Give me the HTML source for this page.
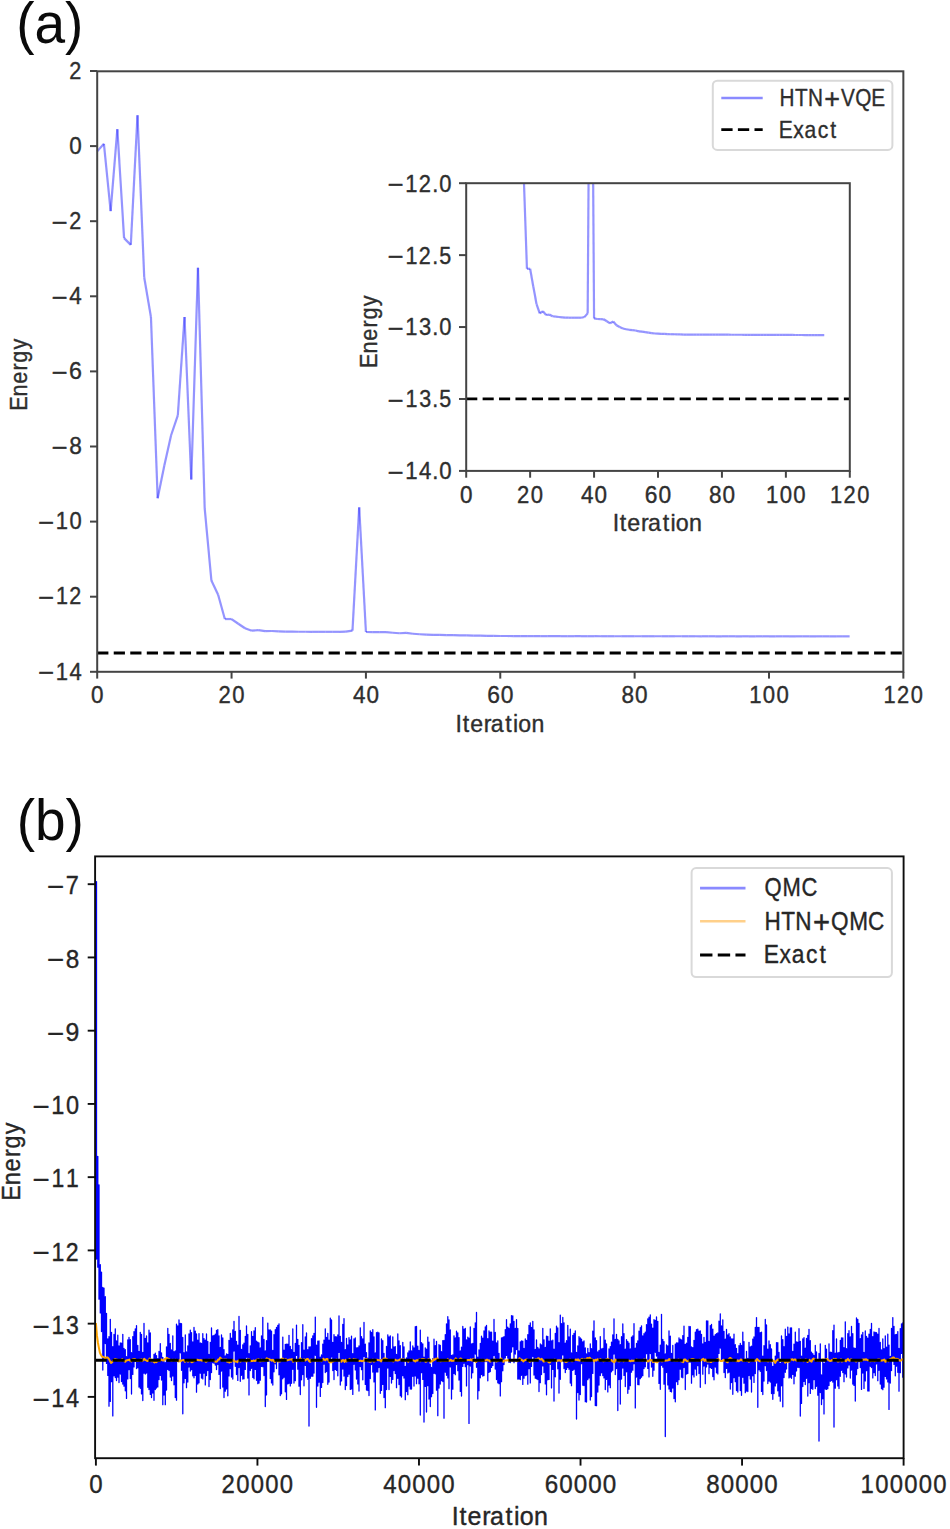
<!DOCTYPE html>
<html><head><meta charset="utf-8"><title>Energy convergence</title>
<style>
html,body{margin:0;padding:0;background:#fff;}
body{width:950px;height:1529px;overflow:hidden;}
text{stroke-width:0.35px;stroke-linejoin:round;}
svg{display:block;font-family:"Liberation Sans",sans-serif;}
</style></head>
<body>
<svg width="950" height="1529" viewBox="0 0 950 1529">
<rect width="950" height="1529" fill="#fff"/>
<text transform="translate(16.2,43.2) scale(0.965,1)" font-size="57" fill="#0a0a0a">(a)</text>
<g stroke="#2a2aff" stroke-opacity="0.5" stroke-width="2.2" stroke-linecap="butt" fill="none"><line x1="97.20" y1="151.36" x2="103.92" y2="143.85"/><line x1="103.92" y1="143.85" x2="110.64" y2="211.06"/><line x1="110.64" y1="211.06" x2="117.35" y2="129.20"/><line x1="117.35" y1="129.20" x2="124.07" y2="238.10"/><line x1="124.07" y1="238.10" x2="130.79" y2="244.86"/><line x1="130.79" y1="244.86" x2="137.51" y2="115.31"/><line x1="137.51" y1="115.31" x2="144.23" y2="277.52"/><line x1="144.23" y1="277.52" x2="150.94" y2="316.95"/><line x1="150.94" y1="316.95" x2="157.66" y2="498.32"/><line x1="157.66" y1="498.32" x2="164.38" y2="465.27"/><line x1="164.38" y1="465.27" x2="171.10" y2="435.24"/><line x1="171.10" y1="435.24" x2="177.81" y2="415.33"/><line x1="177.81" y1="415.33" x2="184.53" y2="316.95"/><line x1="184.53" y1="316.95" x2="191.25" y2="479.54"/><line x1="191.25" y1="479.54" x2="197.97" y2="267.76"/><line x1="197.97" y1="267.76" x2="204.69" y2="508.46"/><line x1="204.69" y1="508.46" x2="211.40" y2="580.55"/><line x1="211.40" y1="580.55" x2="218.12" y2="594.82"/><line x1="218.12" y1="594.82" x2="224.84" y2="619.04"/><line x1="224.84" y1="619.04" x2="231.56" y2="619.04"/><line x1="231.56" y1="619.04" x2="238.28" y2="623.74"/><line x1="238.28" y1="623.74" x2="244.99" y2="628.24"/><line x1="244.99" y1="628.24" x2="251.71" y2="630.68"/><line x1="251.71" y1="630.68" x2="258.43" y2="630.12"/><line x1="258.43" y1="630.12" x2="265.15" y2="631.10"/><line x1="265.15" y1="631.10" x2="271.87" y2="630.98"/><line x1="271.87" y1="630.98" x2="278.58" y2="631.43"/><line x1="278.58" y1="631.43" x2="285.30" y2="631.55"/><line x1="285.30" y1="631.55" x2="292.02" y2="631.62"/><line x1="292.02" y1="631.62" x2="298.74" y2="631.73"/><line x1="298.74" y1="631.73" x2="305.46" y2="631.77"/><line x1="305.46" y1="631.77" x2="312.17" y2="631.81"/><line x1="312.17" y1="631.81" x2="318.89" y2="631.81"/><line x1="318.89" y1="631.81" x2="325.61" y2="631.81"/><line x1="325.61" y1="631.81" x2="332.33" y2="631.81"/><line x1="332.33" y1="631.81" x2="339.04" y2="631.81"/><line x1="339.04" y1="631.81" x2="345.76" y2="631.62"/><line x1="345.76" y1="631.62" x2="352.48" y2="630.68"/><line x1="352.48" y1="630.68" x2="359.20" y2="507.33"/><line x1="359.20" y1="507.33" x2="365.92" y2="632.00"/><line x1="365.92" y1="632.00" x2="372.63" y2="632.15"/><line x1="372.63" y1="632.15" x2="379.35" y2="632.18"/><line x1="379.35" y1="632.18" x2="386.07" y2="632.22"/><line x1="386.07" y1="632.22" x2="392.79" y2="632.75"/><line x1="392.79" y1="632.75" x2="399.51" y2="633.27"/><line x1="399.51" y1="633.27" x2="406.22" y2="632.82"/><line x1="406.22" y1="632.82" x2="412.94" y2="633.76"/><line x1="412.94" y1="633.76" x2="419.66" y2="634.25"/><line x1="419.66" y1="634.25" x2="426.38" y2="634.63"/><line x1="426.38" y1="634.63" x2="433.10" y2="634.81"/><line x1="433.10" y1="634.81" x2="439.81" y2="634.96"/><line x1="439.81" y1="634.96" x2="446.53" y2="635.04"/><line x1="446.53" y1="635.04" x2="453.25" y2="635.15"/><line x1="453.25" y1="635.15" x2="459.97" y2="635.38"/><line x1="459.97" y1="635.38" x2="466.69" y2="635.45"/><line x1="466.69" y1="635.45" x2="473.40" y2="635.56"/><line x1="473.40" y1="635.56" x2="480.12" y2="635.71"/><line x1="480.12" y1="635.71" x2="486.84" y2="635.83"/><line x1="486.84" y1="635.83" x2="493.56" y2="635.94"/><line x1="493.56" y1="635.94" x2="500.27" y2="635.98"/><line x1="500.27" y1="635.98" x2="506.99" y2="636.01"/><line x1="506.99" y1="636.01" x2="513.71" y2="636.05"/><line x1="513.71" y1="636.05" x2="520.43" y2="636.09"/><line x1="520.43" y1="636.09" x2="527.15" y2="636.13"/><line x1="527.15" y1="636.13" x2="533.86" y2="636.13"/><line x1="533.86" y1="636.13" x2="540.58" y2="636.17"/><line x1="540.58" y1="636.17" x2="547.30" y2="636.17"/><line x1="547.30" y1="636.17" x2="554.02" y2="636.20"/><line x1="554.02" y1="636.20" x2="560.74" y2="636.21"/><line x1="560.74" y1="636.21" x2="567.45" y2="636.21"/><line x1="567.45" y1="636.21" x2="574.17" y2="636.21"/><line x1="574.17" y1="636.21" x2="580.89" y2="636.22"/><line x1="580.89" y1="636.22" x2="587.61" y2="636.22"/><line x1="587.61" y1="636.22" x2="594.33" y2="636.22"/><line x1="594.33" y1="636.22" x2="601.04" y2="636.23"/><line x1="601.04" y1="636.23" x2="607.76" y2="636.23"/><line x1="607.76" y1="636.23" x2="614.48" y2="636.23"/><line x1="614.48" y1="636.23" x2="621.20" y2="636.24"/><line x1="621.20" y1="636.24" x2="627.92" y2="636.24"/><line x1="627.92" y1="636.24" x2="634.63" y2="636.24"/><line x1="634.63" y1="636.24" x2="641.35" y2="636.25"/><line x1="641.35" y1="636.25" x2="648.07" y2="636.25"/><line x1="648.07" y1="636.25" x2="654.79" y2="636.25"/><line x1="654.79" y1="636.25" x2="661.50" y2="636.26"/><line x1="661.50" y1="636.26" x2="668.22" y2="636.26"/><line x1="668.22" y1="636.26" x2="674.94" y2="636.26"/><line x1="674.94" y1="636.26" x2="681.66" y2="636.27"/><line x1="681.66" y1="636.27" x2="688.38" y2="636.27"/><line x1="688.38" y1="636.27" x2="695.09" y2="636.27"/><line x1="695.09" y1="636.27" x2="701.81" y2="636.28"/><line x1="701.81" y1="636.28" x2="708.53" y2="636.28"/><line x1="708.53" y1="636.28" x2="715.25" y2="636.28"/><line x1="715.25" y1="636.28" x2="721.97" y2="636.29"/><line x1="721.97" y1="636.29" x2="728.68" y2="636.29"/><line x1="728.68" y1="636.29" x2="735.40" y2="636.29"/><line x1="735.40" y1="636.29" x2="742.12" y2="636.30"/><line x1="742.12" y1="636.30" x2="748.84" y2="636.30"/><line x1="748.84" y1="636.30" x2="755.56" y2="636.31"/><line x1="755.56" y1="636.31" x2="762.27" y2="636.31"/><line x1="762.27" y1="636.31" x2="768.99" y2="636.31"/><line x1="768.99" y1="636.31" x2="775.71" y2="636.32"/><line x1="775.71" y1="636.32" x2="782.43" y2="636.32"/><line x1="782.43" y1="636.32" x2="789.15" y2="636.32"/><line x1="789.15" y1="636.32" x2="795.86" y2="636.33"/><line x1="795.86" y1="636.33" x2="802.58" y2="636.33"/><line x1="802.58" y1="636.33" x2="809.30" y2="636.33"/><line x1="809.30" y1="636.33" x2="816.02" y2="636.34"/><line x1="816.02" y1="636.34" x2="822.74" y2="636.34"/><line x1="822.74" y1="636.34" x2="829.45" y2="636.34"/><line x1="829.45" y1="636.34" x2="836.17" y2="636.35"/><line x1="836.17" y1="636.35" x2="842.89" y2="636.35"/><line x1="842.89" y1="636.35" x2="849.61" y2="636.35"/></g>
<line x1="97.2" y1="653.02" x2="903.35" y2="653.02" stroke="#000" stroke-width="2.8" stroke-dasharray="11.2 5.33"/>
<rect x="97.2" y="71.3" width="806.15" height="600.50" fill="none" stroke="#444" stroke-width="2.0"/>
<line x1="90.00" y1="71.00" x2="97.2" y2="71.00" stroke="#444" stroke-width="2.0"/>
<text transform="translate(82.35,78.70) scale(0.9973,1.0600)" x="-13.11" font-size="21.7" fill="#2e2e2e" stroke="#2e2e2e">2</text>
<line x1="90.00" y1="146.10" x2="97.2" y2="146.10" stroke="#444" stroke-width="2.0"/>
<text transform="translate(82.35,153.80) scale(1.0347,1.0600)" x="-12.59" font-size="21.7" fill="#2e2e2e" stroke="#2e2e2e">0</text>
<line x1="90.00" y1="221.20" x2="97.2" y2="221.20" stroke="#444" stroke-width="2.0"/>
<text transform="translate(82.35,230.50) scale(1.2647,1.1644)" x="-24.11" font-size="21.7" fill="#2e2e2e" stroke="#2e2e2e">−</text><text transform="translate(82.35,228.90) scale(0.9973,1.0600)" x="-13.11" font-size="21.7" fill="#2e2e2e" stroke="#2e2e2e">2</text>
<line x1="90.00" y1="296.30" x2="97.2" y2="296.30" stroke="#444" stroke-width="2.0"/>
<text transform="translate(82.35,305.60) scale(1.2647,1.1644)" x="-24.11" font-size="21.7" fill="#2e2e2e" stroke="#2e2e2e">−</text><text transform="translate(82.35,304.00) scale(1.0348,1.0600)" x="-12.59" font-size="21.7" fill="#2e2e2e" stroke="#2e2e2e">4</text>
<line x1="90.00" y1="371.40" x2="97.2" y2="371.40" stroke="#444" stroke-width="2.0"/>
<text transform="translate(82.35,380.70) scale(1.2647,1.1644)" x="-24.11" font-size="21.7" fill="#2e2e2e" stroke="#2e2e2e">−</text><text transform="translate(82.35,379.10) scale(1.0709,1.0600)" x="-12.37" font-size="21.7" fill="#2e2e2e" stroke="#2e2e2e">6</text>
<line x1="90.00" y1="446.50" x2="97.2" y2="446.50" stroke="#444" stroke-width="2.0"/>
<text transform="translate(82.35,455.80) scale(1.2647,1.1644)" x="-24.11" font-size="21.7" fill="#2e2e2e" stroke="#2e2e2e">−</text><text transform="translate(82.35,454.20) scale(1.0459,1.0600)" x="-12.52" font-size="21.7" fill="#2e2e2e" stroke="#2e2e2e">8</text>
<line x1="90.00" y1="521.60" x2="97.2" y2="521.60" stroke="#444" stroke-width="2.0"/>
<text transform="translate(82.35,530.90) scale(1.2647,1.1644)" x="-34.83" font-size="21.7" fill="#2e2e2e" stroke="#2e2e2e">−</text><text transform="translate(82.35,529.30) scale(1.0127,1.0600)" x="-26.22 -12.73" font-size="21.7" fill="#2e2e2e" stroke="#2e2e2e">10</text>
<line x1="90.00" y1="596.70" x2="97.2" y2="596.70" stroke="#444" stroke-width="2.0"/>
<text transform="translate(82.35,606.00) scale(1.2647,1.1644)" x="-34.83" font-size="21.7" fill="#2e2e2e" stroke="#2e2e2e">−</text><text transform="translate(82.35,604.40) scale(0.9929,1.0600)" x="-26.61 -13.15" font-size="21.7" fill="#2e2e2e" stroke="#2e2e2e">12</text>
<line x1="90.00" y1="671.80" x2="97.2" y2="671.80" stroke="#444" stroke-width="2.0"/>
<text transform="translate(82.35,681.10) scale(1.2647,1.1644)" x="-34.83" font-size="21.7" fill="#2e2e2e" stroke="#2e2e2e">−</text><text transform="translate(82.35,679.50) scale(1.0133,1.0600)" x="-26.21 -12.73" font-size="21.7" fill="#2e2e2e" stroke="#2e2e2e">14</text>
<line x1="97.20" y1="671.8" x2="97.20" y2="678.60" stroke="#444" stroke-width="2.0"/>
<text transform="translate(97.20,702.70) scale(1.0347,1.0600)" x="-6.04" font-size="21.7" fill="#2e2e2e" stroke="#2e2e2e">0</text>
<line x1="231.56" y1="671.8" x2="231.56" y2="678.60" stroke="#444" stroke-width="2.0"/>
<text transform="translate(231.56,702.70) scale(1.0165,1.0600)" x="-12.98 0.63" font-size="21.7" fill="#2e2e2e" stroke="#2e2e2e">20</text>
<line x1="365.92" y1="671.8" x2="365.92" y2="678.60" stroke="#444" stroke-width="2.0"/>
<text transform="translate(365.92,702.70) scale(1.0348,1.0600)" x="-12.59 0.51" font-size="21.7" fill="#2e2e2e" stroke="#2e2e2e">40</text>
<line x1="500.27" y1="671.8" x2="500.27" y2="678.60" stroke="#444" stroke-width="2.0"/>
<text transform="translate(500.27,702.70) scale(1.0525,1.0600)" x="-12.48 0.40" font-size="21.7" fill="#2e2e2e" stroke="#2e2e2e">60</text>
<line x1="634.63" y1="671.8" x2="634.63" y2="678.60" stroke="#444" stroke-width="2.0"/>
<text transform="translate(634.63,702.70) scale(1.0403,1.0600)" x="-12.55 0.47" font-size="21.7" fill="#2e2e2e" stroke="#2e2e2e">80</text>
<line x1="768.99" y1="671.8" x2="768.99" y2="678.60" stroke="#444" stroke-width="2.0"/>
<text transform="translate(768.99,702.70) scale(1.0203,1.0600)" x="-19.43 -6.04 7.24" font-size="21.7" fill="#2e2e2e" stroke="#2e2e2e">100</text>
<line x1="903.35" y1="671.8" x2="903.35" y2="678.60" stroke="#444" stroke-width="2.0"/>
<text transform="translate(903.35,702.70) scale(1.0076,1.0600)" x="-19.60 -6.32 7.41" font-size="21.7" fill="#2e2e2e" stroke="#2e2e2e">120</text>
<text transform="translate(455.75,732.10) scale(1.0650,1.0600)" x="-0.12 6.56 13.53 26.33 32.84 46.43 53.67 58.77 71.03" font-size="21.7" fill="#2e2e2e" stroke="#2e2e2e">Iteration</text>
<text transform="translate(26.90,410.00) rotate(-90) scale(0.9942,1.0600)" x="-0.81 13.53 26.37 39.70 47.52 60.86" font-size="21.7" fill="#2e2e2e" stroke="#2e2e2e">Energy</text>
<rect x="712.8" y="80.7" width="179.6" height="69.2" rx="4.5" fill="#fff" fill-opacity="0.8" stroke="#d9d9d9" stroke-width="2.0"/>
<line x1="721.3" y1="98" x2="762.7" y2="98" stroke="#8a8aff" stroke-width="2.6"/>
<line x1="721.3" y1="129.7" x2="762.7" y2="129.7" stroke="#000" stroke-width="2.8" stroke-dasharray="11.3 5.3"/>
<text transform="translate(779.15,108.24) scale(1.2409,1.2814)" x="36.28" font-size="21.7" fill="#2e2e2e" stroke="#2e2e2e">+</text><text transform="translate(779.15,105.80) scale(0.9554,1.0600)" x="0.38 16.51 30.16 64.75 79.65 96.32" font-size="21.7" fill="#2e2e2e" stroke="#2e2e2e">HTNVQE</text>
<text transform="translate(779.15,137.80) scale(0.9699,1.0600)" x="-0.48 14.52 26.14 39.82 52.58" font-size="21.7" fill="#2e2e2e" stroke="#2e2e2e">Exact</text>
<rect x="466.2" y="183.2" width="383.60" height="287.70" fill="#fff"/>
<clipPath id="ci"><rect x="466.20" y="183.20" width="383.60" height="287.70"/></clipPath>
<g clip-path="url(#ci)" stroke="#2a2aff" stroke-opacity="0.5" stroke-width="2.2" stroke-linecap="butt" fill="none"><line x1="466.20" y1="-1522.86" x2="469.40" y2="-1551.63"/><line x1="469.40" y1="-1551.63" x2="472.59" y2="-1294.14"/><line x1="472.59" y1="-1294.14" x2="475.79" y2="-1607.73"/><line x1="475.79" y1="-1607.73" x2="478.99" y2="-1190.57"/><line x1="478.99" y1="-1190.57" x2="482.18" y2="-1164.67"/><line x1="482.18" y1="-1164.67" x2="485.38" y2="-1660.96"/><line x1="485.38" y1="-1660.96" x2="488.58" y2="-1039.52"/><line x1="488.58" y1="-1039.52" x2="491.77" y2="-888.48"/><line x1="491.77" y1="-888.48" x2="494.97" y2="-193.69"/><line x1="494.97" y1="-193.69" x2="498.17" y2="-320.27"/><line x1="498.17" y1="-320.27" x2="501.36" y2="-435.35"/><line x1="501.36" y1="-435.35" x2="504.56" y2="-511.60"/><line x1="504.56" y1="-511.60" x2="507.76" y2="-888.48"/><line x1="507.76" y1="-888.48" x2="510.95" y2="-265.61"/><line x1="510.95" y1="-265.61" x2="514.15" y2="-1076.93"/><line x1="514.15" y1="-1076.93" x2="517.35" y2="-154.85"/><line x1="517.35" y1="-154.85" x2="520.54" y2="121.34"/><line x1="520.54" y1="121.34" x2="523.74" y2="176.01"/><line x1="523.74" y1="176.01" x2="526.94" y2="268.79"/><line x1="526.94" y1="268.79" x2="530.13" y2="268.79"/><line x1="530.13" y1="268.79" x2="533.33" y2="286.77"/><line x1="533.33" y1="286.77" x2="536.53" y2="304.03"/><line x1="536.53" y1="304.03" x2="539.72" y2="313.38"/><line x1="539.72" y1="313.38" x2="542.92" y2="311.23"/><line x1="542.92" y1="311.23" x2="546.12" y2="314.97"/><line x1="546.12" y1="314.97" x2="549.31" y2="314.54"/><line x1="549.31" y1="314.54" x2="552.51" y2="316.26"/><line x1="552.51" y1="316.26" x2="555.71" y2="316.69"/><line x1="555.71" y1="316.69" x2="558.90" y2="316.98"/><line x1="558.90" y1="316.98" x2="562.10" y2="317.41"/><line x1="562.10" y1="317.41" x2="565.30" y2="317.56"/><line x1="565.30" y1="317.56" x2="568.49" y2="317.70"/><line x1="568.49" y1="317.70" x2="571.69" y2="317.70"/><line x1="571.69" y1="317.70" x2="574.89" y2="317.70"/><line x1="574.89" y1="317.70" x2="578.08" y2="317.70"/><line x1="578.08" y1="317.70" x2="581.28" y2="317.70"/><line x1="581.28" y1="317.70" x2="584.48" y2="316.98"/><line x1="584.48" y1="316.98" x2="587.67" y2="313.38"/><line x1="587.67" y1="313.38" x2="590.87" y2="-159.16"/><line x1="590.87" y1="-159.16" x2="594.07" y2="318.42"/><line x1="594.07" y1="318.42" x2="597.26" y2="318.99"/><line x1="597.26" y1="318.99" x2="600.46" y2="319.14"/><line x1="600.46" y1="319.14" x2="603.66" y2="319.28"/><line x1="603.66" y1="319.28" x2="606.85" y2="321.30"/><line x1="606.85" y1="321.30" x2="610.05" y2="323.31"/><line x1="610.05" y1="323.31" x2="613.25" y2="321.58"/><line x1="613.25" y1="321.58" x2="616.44" y2="325.18"/><line x1="616.44" y1="325.18" x2="619.64" y2="327.05"/><line x1="619.64" y1="327.05" x2="622.84" y2="328.49"/><line x1="622.84" y1="328.49" x2="626.03" y2="329.21"/><line x1="626.03" y1="329.21" x2="629.23" y2="329.78"/><line x1="629.23" y1="329.78" x2="632.43" y2="330.07"/><line x1="632.43" y1="330.07" x2="635.62" y2="330.50"/><line x1="635.62" y1="330.50" x2="638.82" y2="331.37"/><line x1="638.82" y1="331.37" x2="642.02" y2="331.65"/><line x1="642.02" y1="331.65" x2="645.21" y2="332.08"/><line x1="645.21" y1="332.08" x2="648.41" y2="332.66"/><line x1="648.41" y1="332.66" x2="651.61" y2="333.09"/><line x1="651.61" y1="333.09" x2="654.80" y2="333.52"/><line x1="654.80" y1="333.52" x2="658.00" y2="333.67"/><line x1="658.00" y1="333.67" x2="661.20" y2="333.81"/><line x1="661.20" y1="333.81" x2="664.39" y2="333.95"/><line x1="664.39" y1="333.95" x2="667.59" y2="334.10"/><line x1="667.59" y1="334.10" x2="670.79" y2="334.24"/><line x1="670.79" y1="334.24" x2="673.98" y2="334.24"/><line x1="673.98" y1="334.24" x2="677.18" y2="334.39"/><line x1="677.18" y1="334.39" x2="680.38" y2="334.39"/><line x1="680.38" y1="334.39" x2="683.57" y2="334.53"/><line x1="683.57" y1="334.53" x2="686.77" y2="334.54"/><line x1="686.77" y1="334.54" x2="689.97" y2="334.56"/><line x1="689.97" y1="334.56" x2="693.16" y2="334.57"/><line x1="693.16" y1="334.57" x2="696.36" y2="334.58"/><line x1="696.36" y1="334.58" x2="699.56" y2="334.60"/><line x1="699.56" y1="334.60" x2="702.75" y2="334.61"/><line x1="702.75" y1="334.61" x2="705.95" y2="334.62"/><line x1="705.95" y1="334.62" x2="709.15" y2="334.63"/><line x1="709.15" y1="334.63" x2="712.34" y2="334.65"/><line x1="712.34" y1="334.65" x2="715.54" y2="334.66"/><line x1="715.54" y1="334.66" x2="718.74" y2="334.67"/><line x1="718.74" y1="334.67" x2="721.93" y2="334.69"/><line x1="721.93" y1="334.69" x2="725.13" y2="334.70"/><line x1="725.13" y1="334.70" x2="728.33" y2="334.71"/><line x1="728.33" y1="334.71" x2="731.52" y2="334.73"/><line x1="731.52" y1="334.73" x2="734.72" y2="334.74"/><line x1="734.72" y1="334.74" x2="737.92" y2="334.75"/><line x1="737.92" y1="334.75" x2="741.11" y2="334.77"/><line x1="741.11" y1="334.77" x2="744.31" y2="334.78"/><line x1="744.31" y1="334.78" x2="747.51" y2="334.79"/><line x1="747.51" y1="334.79" x2="750.70" y2="334.80"/><line x1="750.70" y1="334.80" x2="753.90" y2="334.82"/><line x1="753.90" y1="334.82" x2="757.10" y2="334.83"/><line x1="757.10" y1="334.83" x2="760.29" y2="334.84"/><line x1="760.29" y1="334.84" x2="763.49" y2="334.86"/><line x1="763.49" y1="334.86" x2="766.69" y2="334.87"/><line x1="766.69" y1="334.87" x2="769.88" y2="334.88"/><line x1="769.88" y1="334.88" x2="773.08" y2="334.90"/><line x1="773.08" y1="334.90" x2="776.28" y2="334.91"/><line x1="776.28" y1="334.91" x2="779.47" y2="334.92"/><line x1="779.47" y1="334.92" x2="782.67" y2="334.94"/><line x1="782.67" y1="334.94" x2="785.87" y2="334.95"/><line x1="785.87" y1="334.95" x2="789.06" y2="334.96"/><line x1="789.06" y1="334.96" x2="792.26" y2="334.97"/><line x1="792.26" y1="334.97" x2="795.46" y2="334.99"/><line x1="795.46" y1="334.99" x2="798.65" y2="335.00"/><line x1="798.65" y1="335.00" x2="801.85" y2="335.01"/><line x1="801.85" y1="335.01" x2="805.05" y2="335.03"/><line x1="805.05" y1="335.03" x2="808.24" y2="335.04"/><line x1="808.24" y1="335.04" x2="811.44" y2="335.05"/><line x1="811.44" y1="335.05" x2="814.64" y2="335.07"/><line x1="814.64" y1="335.07" x2="817.83" y2="335.08"/><line x1="817.83" y1="335.08" x2="821.03" y2="335.09"/><line x1="821.03" y1="335.09" x2="824.23" y2="335.11"/></g>
<line x1="466.2" y1="398.97" x2="849.8" y2="398.97" stroke="#000" stroke-width="2.8" stroke-dasharray="11.1 5.32"/>
<rect x="466.2" y="183.2" width="383.60" height="287.70" fill="none" stroke="#444" stroke-width="2.0"/>
<line x1="459.00" y1="183.20" x2="466.2" y2="183.20" stroke="#444" stroke-width="2.0"/>
<text transform="translate(452.20,193.20) scale(1.2647,1.1644)" x="-50.90" font-size="21.7" fill="#2e2e2e" stroke="#2e2e2e">−</text><text transform="translate(452.20,191.60) scale(1.0111,1.0600)" x="-46.35 -33.12 -19.78 -12.74" font-size="21.7" fill="#2e2e2e" stroke="#2e2e2e">12.0</text>
<line x1="459.00" y1="255.12" x2="466.2" y2="255.12" stroke="#444" stroke-width="2.0"/>
<text transform="translate(452.20,265.12) scale(1.2647,1.1644)" x="-50.90" font-size="21.7" fill="#2e2e2e" stroke="#2e2e2e">−</text><text transform="translate(452.20,263.52) scale(0.9921,1.0600)" x="-47.12 -33.64 -20.10 -12.95" font-size="21.7" fill="#2e2e2e" stroke="#2e2e2e">12.5</text>
<line x1="459.00" y1="327.05" x2="466.2" y2="327.05" stroke="#444" stroke-width="2.0"/>
<text transform="translate(452.20,337.05) scale(1.2647,1.1644)" x="-50.90" font-size="21.7" fill="#2e2e2e" stroke="#2e2e2e">−</text><text transform="translate(452.20,335.45) scale(1.0098,1.0600)" x="-46.40 -32.85 -19.80 -12.75" font-size="21.7" fill="#2e2e2e" stroke="#2e2e2e">13.0</text>
<line x1="459.00" y1="398.97" x2="466.2" y2="398.97" stroke="#444" stroke-width="2.0"/>
<text transform="translate(452.20,408.97) scale(1.2647,1.1644)" x="-50.90" font-size="21.7" fill="#2e2e2e" stroke="#2e2e2e">−</text><text transform="translate(452.20,407.37) scale(0.9910,1.0600)" x="-47.16 -33.36 -20.12 -12.96" font-size="21.7" fill="#2e2e2e" stroke="#2e2e2e">13.5</text>
<line x1="459.00" y1="470.90" x2="466.2" y2="470.90" stroke="#444" stroke-width="2.0"/>
<text transform="translate(452.20,480.90) scale(1.2647,1.1644)" x="-50.90" font-size="21.7" fill="#2e2e2e" stroke="#2e2e2e">−</text><text transform="translate(452.20,479.30) scale(1.0232,1.0600)" x="-45.88 -32.53 -19.58 -12.66" font-size="21.7" fill="#2e2e2e" stroke="#2e2e2e">14.0</text>
<line x1="466.20" y1="470.9" x2="466.20" y2="477.70" stroke="#444" stroke-width="2.0"/>
<text transform="translate(466.20,502.60) scale(1.0347,1.0600)" x="-6.04" font-size="21.7" fill="#2e2e2e" stroke="#2e2e2e">0</text>
<line x1="530.13" y1="470.9" x2="530.13" y2="477.70" stroke="#444" stroke-width="2.0"/>
<text transform="translate(530.13,502.60) scale(1.0165,1.0600)" x="-12.98 0.63" font-size="21.7" fill="#2e2e2e" stroke="#2e2e2e">20</text>
<line x1="594.07" y1="470.9" x2="594.07" y2="477.70" stroke="#444" stroke-width="2.0"/>
<text transform="translate(594.07,502.60) scale(1.0348,1.0600)" x="-12.59 0.51" font-size="21.7" fill="#2e2e2e" stroke="#2e2e2e">40</text>
<line x1="658.00" y1="470.9" x2="658.00" y2="477.70" stroke="#444" stroke-width="2.0"/>
<text transform="translate(658.00,502.60) scale(1.0525,1.0600)" x="-12.48 0.40" font-size="21.7" fill="#2e2e2e" stroke="#2e2e2e">60</text>
<line x1="721.93" y1="470.9" x2="721.93" y2="477.70" stroke="#444" stroke-width="2.0"/>
<text transform="translate(721.93,502.60) scale(1.0403,1.0600)" x="-12.55 0.47" font-size="21.7" fill="#2e2e2e" stroke="#2e2e2e">80</text>
<line x1="785.87" y1="470.9" x2="785.87" y2="477.70" stroke="#444" stroke-width="2.0"/>
<text transform="translate(785.87,502.60) scale(1.0203,1.0600)" x="-19.43 -6.04 7.24" font-size="21.7" fill="#2e2e2e" stroke="#2e2e2e">100</text>
<line x1="849.80" y1="470.9" x2="849.80" y2="477.70" stroke="#444" stroke-width="2.0"/>
<text transform="translate(849.80,502.60) scale(1.0076,1.0600)" x="-19.60 -6.32 7.41" font-size="21.7" fill="#2e2e2e" stroke="#2e2e2e">120</text>
<text transform="translate(612.84,531.30) scale(1.0726,1.0600)" x="-0.12 6.56 13.53 26.33 32.84 46.43 53.67 58.77 71.03" font-size="21.7" fill="#2e2e2e" stroke="#2e2e2e">Iteration</text>
<text transform="translate(376.80,367.11) rotate(-90) scale(0.9995,1.0600)" x="-0.81 13.53 26.37 39.70 47.52 60.86" font-size="21.7" fill="#2e2e2e" stroke="#2e2e2e">Energy</text>
<text transform="translate(16.7,839.7) scale(0.965,1)" font-size="57" fill="#0a0a0a">(b)</text>
<clipPath id="cb"><rect x="95.10" y="856.40" width="808.50" height="601.80"/></clipPath>
<path clip-path="url(#cb)" d="M96.5 881.6V1259.1M97.8 1156.3V1267.2M99.0 1185.0V1299.2M100.3 1264.7V1312.9M101.5 1272.1V1331.5M102.8 1287.5V1370.1M104.0 1288.1V1360.1M105.3 1296.7V1343.6M106.5 1313.3V1363.4M107.8 1338.9V1375.4M109.0 1336.6V1406.2M110.3 1319.3V1401.4M111.5 1332.3V1381.7M112.8 1346.6V1415.9M114.0 1334.5V1375.8M115.3 1328.8V1377.5M116.5 1340.8V1380.6M117.8 1335.2V1377.2M119.0 1345.9V1382.6M120.3 1343.0V1374.0M121.5 1343.2V1381.5M122.8 1334.3V1384.1M124.0 1348.4V1386.2M125.3 1349.6V1390.8M126.5 1356.7V1398.4M127.8 1339.8V1378.9M129.0 1337.5V1369.7M130.3 1339.7V1378.5M131.5 1352.7V1394.0M132.8 1336.6V1374.4M134.0 1331.6V1366.9M135.3 1328.8V1361.4M136.5 1325.7V1368.6M137.8 1345.5V1367.8M139.0 1351.3V1387.1M140.3 1332.3V1388.3M141.5 1334.4V1393.9M142.8 1352.4V1400.5M144.0 1323.4V1373.2M145.3 1338.3V1374.0M146.5 1335.9V1373.1M147.8 1342.8V1387.3M149.0 1330.2V1389.5M150.3 1333.0V1394.4M151.5 1359.7V1397.6M152.8 1361.0V1393.0M154.0 1354.5V1400.3M155.3 1353.2V1389.6M156.5 1355.6V1388.1M157.8 1358.6V1386.9M159.0 1351.4V1379.6M160.3 1343.7V1375.4M161.5 1352.8V1380.0M162.8 1357.3V1404.7M164.0 1361.6V1395.0M165.3 1362.6V1404.7M166.5 1346.8V1390.0M167.8 1328.3V1369.4M169.0 1334.3V1370.5M170.3 1343.5V1377.1M171.5 1350.0V1380.6M172.8 1335.8V1376.1M174.0 1351.7V1384.8M175.3 1351.0V1397.6M176.5 1324.2V1400.2M177.8 1326.0V1358.4M179.0 1319.9V1361.7M180.3 1323.3V1352.8M181.5 1323.7V1370.3M182.8 1337.5V1413.8M184.0 1352.7V1382.8M185.3 1334.9V1378.4M186.5 1351.9V1387.7M187.8 1346.0V1382.0M189.0 1334.0V1367.0M190.3 1330.1V1371.1M191.5 1332.6V1369.7M192.8 1341.9V1375.8M194.0 1327.4V1377.8M195.3 1331.1V1375.4M196.5 1334.0V1392.2M197.8 1340.2V1384.1M199.0 1333.6V1382.8M200.3 1342.9V1373.2M201.5 1343.5V1378.1M202.8 1333.7V1378.9M204.0 1338.6V1373.2M205.3 1340.2V1384.9M206.5 1334.0V1375.5M207.8 1341.4V1370.5M209.0 1354.5V1386.5M210.3 1342.5V1379.6M211.5 1328.0V1372.6M212.8 1335.8V1362.7M214.0 1335.3V1363.2M215.3 1334.2V1365.0M216.5 1330.3V1369.6M217.8 1329.6V1364.5M219.0 1336.0V1374.4M220.3 1347.5V1388.5M221.5 1334.9V1371.0M222.8 1337.9V1387.1M224.0 1349.7V1397.5M225.3 1355.9V1391.2M226.5 1354.0V1388.9M227.8 1354.3V1395.8M229.0 1340.3V1375.9M230.3 1333.5V1368.7M231.5 1338.2V1377.1M232.8 1329.9V1379.0M234.0 1321.5V1351.1M235.3 1331.5V1366.3M236.5 1341.5V1374.5M237.8 1345.1V1380.4M239.0 1316.4V1367.6M240.3 1330.3V1381.3M241.5 1349.3V1375.3M242.8 1344.8V1379.1M244.0 1343.2V1378.8M245.3 1336.5V1369.4M246.5 1325.9V1357.3M247.8 1334.4V1378.1M249.0 1353.6V1394.9M250.3 1345.8V1370.5M251.5 1331.7V1368.3M252.8 1336.3V1377.4M254.0 1330.8V1378.8M255.3 1327.7V1369.4M256.5 1341.1V1380.3M257.8 1342.1V1383.7M259.0 1342.9V1383.1M260.3 1348.0V1380.2M261.5 1335.8V1366.4M262.8 1317.3V1366.7M264.0 1339.4V1375.6M265.3 1350.8V1406.5M266.5 1340.6V1394.9M267.8 1323.1V1361.1M269.0 1329.9V1361.1M270.3 1329.9V1378.6M271.5 1331.2V1382.9M272.8 1350.5V1385.1M274.0 1334.6V1371.8M275.3 1329.7V1363.8M276.5 1327.4V1368.6M277.8 1325.4V1361.4M279.0 1323.8V1374.8M280.3 1359.5V1395.5M281.5 1360.8V1393.8M282.8 1337.1V1378.8M284.0 1350.2V1377.3M285.3 1344.3V1391.8M286.5 1344.1V1399.4M287.8 1344.2V1383.9M289.0 1335.3V1383.3M290.3 1346.5V1385.9M291.5 1349.7V1383.3M292.8 1329.0V1369.3M294.0 1352.3V1383.0M295.3 1343.5V1380.7M296.5 1325.1V1355.4M297.8 1339.3V1369.2M299.0 1345.3V1386.2M300.3 1360.3V1394.6M301.5 1342.6V1379.8M302.8 1324.7V1374.5M304.0 1350.1V1385.8M305.3 1337.0V1365.4M306.5 1333.0V1377.2M307.8 1349.7V1379.3M309.0 1346.8V1426.1M310.3 1346.8V1378.3M311.5 1338.6V1376.2M312.8 1335.8V1376.3M314.0 1333.3V1373.0M315.3 1317.1V1355.3M316.5 1345.2V1407.3M317.8 1341.2V1386.1M319.0 1340.9V1382.2M320.3 1357.1V1396.4M321.5 1354.9V1387.4M322.8 1344.2V1382.6M324.0 1340.1V1364.2M325.3 1328.8V1372.5M326.5 1337.4V1371.5M327.8 1333.4V1384.3M329.0 1340.1V1382.1M330.3 1318.1V1358.9M331.5 1320.0V1357.1M332.8 1342.3V1370.5M334.0 1334.7V1379.6M335.3 1336.7V1369.4M336.5 1337.0V1370.4M337.8 1334.9V1375.8M339.0 1316.0V1352.4M340.3 1336.3V1385.1M341.5 1342.3V1380.9M342.8 1324.4V1369.1M344.0 1318.6V1376.1M345.3 1349.6V1389.6M346.5 1338.4V1385.6M347.8 1344.9V1376.6M349.0 1337.7V1374.2M350.3 1340.0V1389.4M351.5 1336.1V1388.9M352.8 1353.6V1394.4M354.0 1338.9V1364.3M355.3 1338.0V1369.9M356.5 1347.8V1379.0M357.8 1347.7V1383.9M359.0 1345.9V1391.0M360.3 1327.8V1366.6M361.5 1336.7V1369.7M362.8 1339.0V1379.8M364.0 1322.5V1356.5M365.3 1344.2V1384.4M366.5 1352.7V1390.0M367.8 1358.1V1390.5M369.0 1342.8V1395.5M370.3 1330.9V1378.6M371.5 1332.4V1364.5M372.8 1329.7V1372.1M374.0 1336.9V1381.9M375.3 1353.0V1409.9M376.5 1332.7V1371.9M377.8 1332.2V1372.0M379.0 1332.9V1367.6M380.3 1360.0V1393.3M381.5 1339.0V1390.4M382.8 1340.7V1384.4M384.0 1353.4V1397.6M385.3 1361.1V1407.7M386.5 1346.4V1389.5M387.8 1334.8V1368.1M389.0 1337.0V1389.5M390.3 1335.8V1376.4M391.5 1349.1V1383.0M392.8 1336.9V1379.4M394.0 1347.0V1370.6M395.3 1346.6V1373.6M396.5 1354.3V1387.7M397.8 1334.0V1378.3M399.0 1340.8V1384.6M400.3 1345.7V1395.7M401.5 1359.2V1397.1M402.8 1342.3V1375.7M404.0 1346.8V1378.0M405.3 1366.3V1399.7M406.5 1357.9V1391.5M407.8 1353.0V1394.7M409.0 1351.0V1386.2M410.3 1342.0V1389.0M411.5 1351.0V1389.0M412.8 1346.0V1376.3M414.0 1347.8V1386.0M415.3 1326.7V1375.9M416.5 1326.5V1383.7M417.8 1346.2V1378.2M419.0 1350.4V1383.8M420.3 1330.2V1415.0M421.5 1342.6V1372.7M422.8 1344.0V1379.4M424.0 1357.1V1422.0M425.3 1347.8V1386.4M426.5 1349.1V1412.0M427.8 1337.1V1385.7M429.0 1342.2V1399.1M430.3 1364.1V1406.6M431.5 1367.5V1396.7M432.8 1358.7V1393.5M434.0 1339.2V1373.3M435.3 1345.6V1373.8M436.5 1341.4V1390.2M437.8 1358.7V1415.7M439.0 1344.6V1388.1M440.3 1345.5V1384.1M441.5 1351.7V1380.7M442.8 1340.7V1381.6M444.0 1340.5V1418.2M445.3 1334.6V1372.2M446.5 1323.8V1375.3M447.8 1316.7V1377.9M449.0 1319.9V1388.7M450.3 1330.0V1366.9M451.5 1355.4V1399.1M452.8 1354.8V1389.2M454.0 1335.8V1373.4M455.3 1338.0V1374.7M456.5 1331.2V1364.6M457.8 1332.8V1370.7M459.0 1337.6V1380.1M460.3 1351.0V1391.4M461.5 1347.1V1396.0M462.8 1326.5V1366.4M464.0 1329.1V1363.3M465.3 1328.4V1366.7M466.5 1340.0V1385.9M467.8 1337.1V1364.7M469.0 1338.1V1423.4M470.3 1327.0V1366.1M471.5 1344.0V1378.0M472.8 1343.3V1372.8M474.0 1328.5V1360.9M475.3 1322.8V1354.0M476.5 1312.4V1367.3M477.8 1357.2V1399.0M479.0 1349.8V1390.7M480.3 1343.4V1377.8M481.5 1336.2V1374.5M482.8 1338.1V1376.0M484.0 1330.9V1375.6M485.3 1327.0V1361.5M486.5 1325.5V1361.6M487.8 1338.7V1380.8M489.0 1330.9V1372.4M490.3 1332.1V1371.6M491.5 1332.1V1367.4M492.8 1341.1V1365.5M494.0 1319.4V1355.5M495.3 1332.4V1369.1M496.5 1342.8V1379.5M497.8 1340.8V1382.8M499.0 1353.5V1383.7M500.3 1360.4V1395.9M501.5 1337.8V1381.7M502.8 1337.4V1370.8M504.0 1336.6V1364.5M505.3 1329.6V1357.9M506.5 1319.7V1355.4M507.8 1327.1V1358.0M509.0 1328.5V1362.4M510.3 1323.8V1362.6M511.5 1315.6V1352.0M512.8 1315.8V1346.8M514.0 1321.4V1362.7M515.3 1328.4V1354.1M516.5 1319.7V1349.6M517.8 1328.4V1379.1M519.0 1350.8V1379.1M520.3 1341.8V1379.6M521.5 1340.9V1375.3M522.8 1341.1V1384.4M524.0 1348.4V1378.2M525.3 1339.0V1375.6M526.5 1340.3V1375.1M527.8 1334.7V1384.2M529.0 1325.3V1368.7M530.3 1323.0V1382.9M531.5 1327.4V1366.4M532.8 1321.5V1356.6M534.0 1330.0V1375.1M535.3 1349.4V1378.2M536.5 1339.9V1378.8M537.8 1347.4V1379.5M539.0 1348.9V1391.6M540.3 1344.0V1382.7M541.5 1345.0V1374.5M542.8 1328.3V1365.9M544.0 1339.8V1372.5M545.3 1347.4V1383.9M546.5 1336.2V1394.8M547.8 1336.5V1379.8M549.0 1341.1V1379.4M550.3 1328.8V1364.3M551.5 1341.0V1387.9M552.8 1340.1V1369.4M554.0 1349.2V1401.0M555.3 1333.4V1376.8M556.5 1326.1V1360.1M557.8 1328.0V1368.8M559.0 1342.7V1393.1M560.3 1315.1V1379.3M561.5 1323.7V1361.3M562.8 1317.4V1354.9M564.0 1322.8V1368.5M565.3 1343.1V1372.6M566.5 1340.7V1369.4M567.8 1325.3V1367.6M569.0 1336.8V1369.3M570.3 1329.2V1383.0M571.5 1353.0V1385.7M572.8 1335.4V1370.4M574.0 1333.3V1369.3M575.3 1330.8V1374.4M576.5 1352.3V1419.0M577.8 1346.0V1392.5M579.0 1336.7V1400.0M580.3 1337.9V1394.6M581.5 1339.1V1363.7M582.8 1341.8V1385.2M584.0 1340.9V1385.5M585.3 1348.0V1401.7M586.5 1353.8V1402.1M587.8 1348.3V1379.7M589.0 1352.6V1378.0M590.3 1343.8V1400.0M591.5 1348.7V1396.6M592.8 1331.1V1373.4M594.0 1320.8V1359.3M595.3 1338.0V1405.6M596.5 1340.6V1405.7M597.8 1351.9V1392.0M599.0 1350.5V1385.1M600.3 1336.6V1375.5M601.5 1349.0V1372.8M602.8 1348.5V1375.6M604.0 1328.4V1377.9M605.3 1340.1V1389.6M606.5 1343.8V1379.4M607.8 1359.0V1391.9M609.0 1348.9V1385.1M610.3 1346.7V1387.7M611.5 1342.1V1371.8M612.8 1334.8V1370.3M614.0 1318.8V1354.1M615.3 1339.4V1374.6M616.5 1334.5V1368.6M617.8 1339.5V1410.6M619.0 1340.9V1379.5M620.3 1344.7V1404.1M621.5 1336.7V1379.1M622.8 1323.9V1368.1M624.0 1333.7V1375.4M625.3 1349.2V1386.5M626.5 1339.7V1371.8M627.8 1341.5V1393.3M629.0 1343.2V1389.2M630.3 1349.0V1385.7M631.5 1337.1V1372.2M632.8 1335.8V1370.2M634.0 1323.7V1363.8M635.3 1348.2V1407.9M636.5 1343.5V1377.1M637.8 1341.0V1384.5M639.0 1331.1V1384.8M640.3 1327.7V1378.7M641.5 1325.8V1377.2M642.8 1336.0V1375.7M644.0 1333.7V1368.5M645.3 1332.1V1366.8M646.5 1324.6V1353.7M647.8 1318.8V1368.4M649.0 1317.2V1376.9M650.3 1315.0V1353.6M651.5 1324.1V1367.0M652.8 1328.1V1376.3M654.0 1319.6V1370.2M655.3 1320.4V1352.3M656.5 1316.9V1356.1M657.8 1321.3V1361.6M659.0 1352.5V1383.4M660.3 1345.2V1389.3M661.5 1314.3V1365.3M662.8 1339.4V1367.2M664.0 1341.7V1384.2M665.3 1353.9V1436.5M666.5 1345.0V1372.5M667.8 1345.8V1384.9M669.0 1331.0V1389.0M670.3 1336.1V1391.4M671.5 1353.3V1391.9M672.8 1345.5V1388.1M674.0 1361.8V1398.5M675.3 1344.1V1401.8M676.5 1342.8V1381.7M677.8 1342.9V1384.5M679.0 1337.8V1379.7M680.3 1339.2V1369.2M681.5 1339.9V1377.2M682.8 1335.6V1377.8M684.0 1326.2V1367.5M685.3 1344.3V1389.5M686.5 1343.2V1374.0M687.8 1337.3V1373.5M689.0 1326.4V1362.2M690.3 1326.6V1362.0M691.5 1346.9V1383.2M692.8 1347.6V1374.8M694.0 1340.3V1376.9M695.3 1332.2V1369.1M696.5 1329.6V1375.2M697.8 1329.1V1365.7M699.0 1331.1V1373.6M700.3 1330.9V1387.3M701.5 1334.3V1360.0M702.8 1343.8V1374.2M704.0 1337.5V1366.1M705.3 1342.3V1383.7M706.5 1320.9V1366.9M707.8 1320.9V1364.0M709.0 1341.4V1373.7M710.3 1325.6V1367.6M711.5 1324.5V1368.4M712.8 1329.1V1376.5M714.0 1336.2V1379.8M715.3 1334.6V1367.1M716.5 1333.6V1372.8M717.8 1332.9V1373.9M719.0 1321.2V1353.4M720.3 1313.8V1348.0M721.5 1326.0V1359.6M722.8 1319.8V1358.9M724.0 1331.3V1372.6M725.3 1339.1V1377.5M726.5 1329.5V1368.4M727.8 1335.0V1372.9M729.0 1333.6V1372.2M730.3 1336.8V1389.0M731.5 1339.0V1382.6M732.8 1338.9V1394.3M734.0 1334.2V1377.7M735.3 1344.7V1381.7M736.5 1348.3V1390.5M737.8 1353.6V1392.0M739.0 1345.7V1376.2M740.3 1343.4V1390.5M741.5 1345.5V1395.3M742.8 1332.2V1377.3M744.0 1341.6V1383.2M745.3 1361.1V1392.7M746.5 1351.5V1391.0M747.8 1358.4V1391.5M749.0 1342.3V1375.6M750.3 1346.8V1379.0M751.5 1346.2V1392.0M752.8 1339.1V1375.8M754.0 1336.9V1382.4M755.3 1327.5V1373.6M756.5 1317.6V1360.6M757.8 1327.3V1407.3M759.0 1327.4V1369.8M760.3 1332.6V1371.3M761.5 1332.2V1391.4M762.8 1356.2V1394.6M764.0 1345.7V1381.1M765.3 1319.5V1365.7M766.5 1325.0V1370.6M767.8 1349.1V1383.5M769.0 1340.9V1381.0M770.3 1344.7V1382.1M771.5 1348.9V1393.5M772.8 1366.3V1399.3M774.0 1361.9V1393.5M775.3 1356.1V1385.9M776.5 1342.7V1383.1M777.8 1342.7V1390.8M779.0 1352.4V1396.2M780.3 1363.3V1401.2M781.5 1335.9V1385.8M782.8 1339.6V1406.8M784.0 1346.6V1377.6M785.3 1329.2V1372.3M786.5 1336.3V1368.9M787.8 1327.1V1362.0M789.0 1334.0V1377.9M790.3 1327.9V1377.2M791.5 1327.8V1378.3M792.8 1351.4V1374.4M794.0 1344.1V1383.8M795.3 1332.2V1376.2M796.5 1341.9V1370.9M797.8 1342.1V1367.3M799.0 1328.7V1367.6M800.3 1341.3V1416.0M801.5 1356.1V1403.4M802.8 1338.8V1386.6M804.0 1337.7V1381.4M805.3 1348.2V1384.5M806.5 1338.4V1378.3M807.8 1335.4V1396.0M809.0 1329.3V1382.7M810.3 1340.6V1393.4M811.5 1352.1V1388.5M812.8 1353.7V1389.3M814.0 1355.3V1379.7M815.3 1345.5V1388.6M816.5 1351.9V1386.3M817.8 1361.2V1395.2M819.0 1353.4V1441.0M820.3 1344.0V1392.5M821.5 1374.8V1404.5M822.8 1360.4V1398.8M824.0 1363.3V1413.9M825.3 1345.3V1389.1M826.5 1349.1V1389.4M827.8 1359.8V1388.8M829.0 1343.8V1385.4M830.3 1352.1V1381.3M831.5 1352.5V1380.5M832.8 1330.7V1382.0M834.0 1325.1V1427.0M835.3 1353.2V1388.2M836.5 1339.0V1379.7M837.8 1352.8V1385.9M839.0 1352.3V1388.6M840.3 1340.5V1376.3M841.5 1337.9V1370.3M842.8 1337.8V1372.6M844.0 1347.7V1381.7M845.3 1321.8V1373.9M846.5 1348.7V1377.1M847.8 1333.7V1367.9M849.0 1330.7V1365.0M850.3 1336.9V1378.0M851.5 1326.4V1370.1M852.8 1333.6V1384.1M854.0 1348.0V1385.4M855.3 1348.4V1401.1M856.5 1317.9V1374.7M857.8 1319.5V1368.6M859.0 1323.4V1361.6M860.3 1338.6V1367.5M861.5 1335.0V1389.4M862.8 1332.5V1373.1M864.0 1352.4V1388.4M865.3 1331.0V1380.9M866.5 1336.4V1370.7M867.8 1338.2V1390.9M869.0 1334.1V1391.0M870.3 1329.3V1366.3M871.5 1323.3V1367.6M872.8 1336.6V1377.9M874.0 1332.0V1372.7M875.3 1332.5V1375.6M876.5 1332.7V1363.9M877.8 1334.2V1380.7M879.0 1328.4V1370.3M880.3 1342.4V1384.1M881.5 1349.8V1388.7M882.8 1338.9V1389.7M884.0 1348.7V1387.2M885.3 1335.9V1376.4M886.5 1347.2V1378.9M887.8 1334.2V1381.9M889.0 1345.1V1409.4M890.3 1356.4V1383.1M891.5 1328.4V1370.6M892.8 1317.6V1358.5M894.0 1326.5V1364.4M895.3 1334.7V1375.8M896.5 1334.4V1366.2M897.8 1331.6V1372.3M899.0 1348.5V1391.2M900.3 1328.6V1372.7M901.5 1323.8V1353.4M902.8 1323.0V1377.2M904.0 1341.6V1363.2" fill="none" stroke="#0000ff" stroke-width="1.3" stroke-linecap="round"/>
<polyline points="95.9,1323.0 96.9,1335.2 97.9,1342.5 98.9,1347.9 99.9,1352.8 101.0,1355.0 102.0,1356.6 103.0,1357.0 104.0,1357.3 105.0,1357.9 106.0,1357.9 107.0,1357.2 108.0,1357.9 109.0,1359.1 110.1,1361.4 111.1,1362.9 112.1,1362.2 113.1,1360.7 114.1,1359.9 115.1,1359.0 116.1,1359.8 117.1,1359.6 118.1,1360.6 119.2,1360.2 120.2,1360.6 121.2,1360.5 122.2,1359.1 123.2,1360.1 124.2,1360.9 125.2,1361.8 126.2,1360.5 127.2,1360.2 128.2,1360.1 129.3,1359.6 130.3,1360.9 131.3,1361.4 132.3,1359.7 133.3,1359.2 134.3,1358.9 135.3,1359.3 136.3,1360.5 137.3,1360.9 138.4,1360.7 139.4,1359.8 140.4,1360.6 141.4,1359.2 142.4,1360.9 143.4,1359.6 144.4,1358.9 145.4,1360.1 146.4,1360.4 147.5,1361.1 148.5,1360.5 149.5,1358.6 150.5,1359.3 151.5,1361.3 152.5,1360.1 153.5,1361.6 154.5,1362.4 155.5,1361.5 156.6,1362.1 157.6,1360.2 158.6,1361.1 159.6,1360.9 160.6,1360.1 161.6,1359.4 162.6,1360.4 163.6,1360.5 164.6,1359.0 165.7,1359.4 166.7,1357.9 167.7,1358.7 168.7,1358.7 169.7,1359.6 170.7,1360.3 171.7,1360.8 172.7,1359.8 173.7,1360.1 174.7,1360.2 175.8,1359.8 176.8,1360.9 177.8,1360.9 178.8,1361.4 179.8,1360.0 180.8,1361.1 181.8,1360.4 182.8,1360.1 183.8,1359.9 184.9,1361.8 185.9,1361.0 186.9,1360.6 187.9,1361.7 188.9,1360.3 189.9,1360.7 190.9,1361.5 191.9,1362.3 192.9,1361.6 194.0,1361.0 195.0,1359.9 196.0,1359.9 197.0,1359.8 198.0,1360.0 199.0,1360.3 200.0,1360.3 201.0,1360.0 202.0,1360.8 203.1,1360.4 204.1,1359.8 205.1,1361.2 206.1,1361.8 207.1,1361.1 208.1,1360.0 209.1,1359.8 210.1,1360.0 211.1,1360.2 212.2,1359.8 213.2,1360.0 214.2,1361.2 215.2,1361.7 216.2,1361.7 217.2,1361.3 218.2,1359.6 219.2,1359.4 220.2,1357.6 221.3,1358.7 222.3,1359.9 223.3,1360.1 224.3,1359.4 225.3,1359.7 226.3,1359.5 227.3,1361.8 228.3,1360.6 229.3,1362.5 230.3,1361.6 231.4,1361.7 232.4,1360.1 233.4,1360.2 234.4,1361.5 235.4,1361.4 236.4,1361.5 237.4,1362.1 238.4,1360.4 239.4,1360.6 240.5,1361.5 241.5,1359.9 242.5,1360.1 243.5,1360.5 244.5,1360.4 245.5,1361.2 246.5,1361.7 247.5,1360.3 248.5,1359.2 249.6,1359.6 250.6,1361.2 251.6,1361.1 252.6,1361.0 253.6,1360.4 254.6,1361.0 255.6,1360.8 256.6,1359.7 257.6,1359.6 258.7,1359.3 259.7,1361.2 260.7,1361.3 261.7,1359.5 262.7,1360.9 263.7,1361.0 264.7,1360.4 265.7,1360.0 266.7,1358.2 267.8,1359.3 268.8,1358.9 269.8,1359.8 270.8,1359.8 271.8,1360.8 272.8,1359.7 273.8,1361.0 274.8,1362.2 275.8,1360.4 276.8,1360.4 277.9,1361.4 278.9,1361.3 279.9,1361.5 280.9,1359.7 281.9,1358.8 282.9,1358.6 283.9,1360.1 284.9,1359.8 285.9,1359.1 287.0,1360.4 288.0,1360.1 289.0,1359.7 290.0,1359.6 291.0,1359.6 292.0,1359.0 293.0,1361.7 294.0,1360.1 295.0,1360.4 296.1,1361.3 297.1,1360.8 298.1,1360.9 299.1,1360.1 300.1,1358.4 301.1,1359.0 302.1,1360.7 303.1,1360.0 304.1,1359.2 305.2,1360.5 306.2,1359.7 307.2,1358.9 308.2,1359.2 309.2,1361.3 310.2,1362.0 311.2,1359.6 312.2,1360.0 313.2,1360.7 314.3,1359.8 315.3,1359.8 316.3,1360.6 317.3,1360.7 318.3,1359.8 319.3,1360.4 320.3,1360.6 321.3,1361.2 322.3,1360.3 323.3,1358.7 324.4,1359.7 325.4,1360.3 326.4,1358.9 327.4,1358.9 328.4,1360.3 329.4,1362.4 330.4,1362.1 331.4,1362.3 332.4,1361.1 333.5,1361.4 334.5,1360.1 335.5,1360.5 336.5,1359.6 337.5,1360.2 338.5,1360.7 339.5,1359.6 340.5,1360.5 341.5,1361.8 342.6,1360.1 343.6,1360.3 344.6,1361.9 345.6,1359.9 346.6,1361.4 347.6,1360.6 348.6,1359.9 349.6,1358.9 350.6,1360.2 351.7,1360.0 352.7,1360.1 353.7,1359.0 354.7,1360.2 355.7,1359.4 356.7,1360.1 357.7,1360.4 358.7,1361.0 359.7,1361.0 360.8,1360.6 361.8,1361.2 362.8,1361.0 363.8,1360.2 364.8,1360.6 365.8,1359.0 366.8,1358.9 367.8,1361.3 368.8,1361.3 369.9,1361.8 370.9,1361.5 371.9,1361.1 372.9,1359.5 373.9,1361.6 374.9,1361.0 375.9,1359.7 376.9,1359.7 377.9,1360.1 378.9,1360.3 380.0,1360.3 381.0,1361.4 382.0,1359.8 383.0,1359.7 384.0,1358.4 385.0,1358.7 386.0,1358.6 387.0,1359.2 388.0,1360.0 389.1,1360.5 390.1,1360.5 391.1,1360.2 392.1,1360.4 393.1,1361.4 394.1,1360.7 395.1,1359.7 396.1,1360.3 397.1,1360.4 398.2,1360.4 399.2,1359.9 400.2,1359.3 401.2,1359.6 402.2,1360.2 403.2,1359.1 404.2,1360.3 405.2,1360.8 406.2,1360.3 407.3,1360.7 408.3,1361.8 409.3,1360.2 410.3,1359.7 411.3,1360.1 412.3,1359.8 413.3,1360.4 414.3,1360.8 415.3,1361.5 416.4,1360.2 417.4,1360.6 418.4,1359.9 419.4,1359.5 420.4,1361.1 421.4,1359.3 422.4,1359.1 423.4,1359.1 424.4,1359.2 425.4,1361.7 426.5,1361.5 427.5,1360.6 428.5,1359.0 429.5,1360.6 430.5,1362.0 431.5,1360.9 432.5,1361.2 433.5,1359.2 434.5,1359.9 435.6,1358.7 436.6,1359.1 437.6,1358.3 438.6,1360.7 439.6,1360.4 440.6,1361.3 441.6,1361.1 442.6,1360.6 443.6,1360.8 444.7,1361.1 445.7,1360.8 446.7,1361.0 447.7,1359.1 448.7,1360.7 449.7,1360.8 450.7,1359.7 451.7,1360.9 452.7,1360.8 453.8,1360.8 454.8,1359.9 455.8,1358.4 456.8,1359.4 457.8,1360.3 458.8,1360.3 459.8,1359.0 460.8,1358.5 461.8,1359.5 462.9,1360.6 463.9,1360.0 464.9,1360.1 465.9,1360.1 466.9,1360.3 467.9,1360.1 468.9,1360.1 469.9,1360.2 470.9,1359.3 472.0,1360.7 473.0,1359.1 474.0,1359.6 475.0,1361.0 476.0,1362.0 477.0,1361.0 478.0,1360.6 479.0,1360.5 480.0,1360.4 481.0,1359.8 482.1,1361.0 483.1,1360.8 484.1,1359.8 485.1,1360.6 486.1,1360.5 487.1,1359.6 488.1,1360.6 489.1,1360.3 490.1,1361.6 491.2,1361.0 492.2,1360.3 493.2,1360.3 494.2,1359.8 495.2,1359.6 496.2,1361.5 497.2,1361.0 498.2,1360.7 499.2,1359.9 500.3,1359.7 501.3,1358.5 502.3,1360.7 503.3,1361.8 504.3,1360.4 505.3,1360.6 506.3,1360.6 507.3,1360.3 508.3,1360.1 509.4,1361.2 510.4,1360.1 511.4,1360.1 512.4,1360.5 513.4,1359.9 514.4,1359.2 515.4,1360.5 516.4,1360.1 517.4,1361.3 518.5,1360.2 519.5,1358.2 520.5,1360.3 521.5,1359.6 522.5,1360.5 523.5,1361.4 524.5,1360.2 525.5,1360.1 526.5,1359.4 527.5,1359.7 528.6,1360.2 529.6,1361.8 530.6,1361.2 531.6,1360.9 532.6,1360.2 533.6,1360.0 534.6,1360.2 535.6,1359.2 536.6,1359.9 537.7,1358.5 538.7,1358.2 539.7,1359.0 540.7,1359.6 541.7,1358.9 542.7,1360.1 543.7,1361.6 544.7,1361.3 545.7,1360.8 546.8,1361.0 547.8,1361.2 548.8,1362.2 549.8,1362.5 550.8,1360.8 551.8,1360.4 552.8,1360.0 553.8,1359.9 554.8,1359.6 555.9,1360.3 556.9,1361.1 557.9,1360.2 558.9,1360.7 559.9,1360.2 560.9,1361.4 561.9,1360.0 562.9,1360.2 563.9,1359.8 565.0,1361.6 566.0,1362.0 567.0,1361.6 568.0,1361.0 569.0,1359.9 570.0,1359.6 571.0,1360.4 572.0,1361.3 573.0,1360.1 574.1,1359.9 575.1,1359.8 576.1,1359.6 577.1,1360.2 578.1,1359.4 579.1,1360.6 580.1,1360.6 581.1,1359.6 582.1,1358.8 583.1,1361.0 584.2,1359.4 585.2,1360.2 586.2,1359.4 587.2,1358.0 588.2,1359.1 589.2,1357.8 590.2,1358.2 591.2,1360.1 592.2,1359.6 593.3,1360.3 594.3,1361.3 595.3,1359.7 596.3,1360.6 597.3,1359.3 598.3,1359.6 599.3,1360.5 600.3,1359.1 601.3,1359.8 602.4,1360.4 603.4,1361.3 604.4,1360.9 605.4,1360.3 606.4,1359.3 607.4,1359.7 608.4,1358.8 609.4,1361.0 610.4,1359.9 611.5,1359.9 612.5,1361.5 613.5,1361.6 614.5,1362.1 615.5,1359.6 616.5,1360.2 617.5,1360.9 618.5,1361.2 619.5,1361.2 620.6,1360.8 621.6,1360.0 622.6,1360.3 623.6,1361.3 624.6,1360.5 625.6,1360.0 626.6,1360.2 627.6,1359.9 628.6,1360.8 629.6,1360.8 630.7,1361.3 631.7,1360.5 632.7,1360.9 633.7,1360.7 634.7,1360.6 635.7,1360.2 636.7,1359.6 637.7,1360.0 638.7,1359.9 639.8,1360.3 640.8,1360.1 641.8,1360.3 642.8,1360.8 643.8,1359.6 644.8,1359.4 645.8,1360.6 646.8,1360.6 647.8,1361.5 648.9,1361.0 649.9,1359.7 650.9,1360.6 651.9,1360.0 652.9,1362.1 653.9,1360.9 654.9,1361.8 655.9,1361.7 656.9,1362.3 658.0,1361.6 659.0,1361.3 660.0,1360.5 661.0,1361.1 662.0,1361.4 663.0,1359.9 664.0,1360.9 665.0,1360.7 666.0,1360.6 667.1,1360.5 668.1,1360.3 669.1,1359.0 670.1,1359.9 671.1,1359.7 672.1,1359.9 673.1,1360.1 674.1,1360.2 675.1,1360.5 676.2,1360.2 677.2,1360.8 678.2,1359.5 679.2,1359.9 680.2,1360.1 681.2,1361.4 682.2,1361.3 683.2,1362.1 684.2,1359.4 685.2,1359.5 686.3,1360.7 687.3,1361.3 688.3,1361.3 689.3,1359.9 690.3,1360.2 691.3,1359.3 692.3,1359.1 693.3,1359.0 694.3,1359.7 695.4,1360.0 696.4,1360.4 697.4,1360.4 698.4,1360.4 699.4,1359.8 700.4,1360.2 701.4,1360.2 702.4,1359.4 703.4,1358.7 704.5,1360.9 705.5,1359.6 706.5,1360.9 707.5,1361.6 708.5,1361.4 709.5,1361.0 710.5,1361.9 711.5,1361.9 712.5,1360.0 713.6,1361.1 714.6,1360.2 715.6,1360.0 716.6,1359.6 717.6,1359.0 718.6,1359.5 719.6,1360.0 720.6,1361.1 721.6,1361.1 722.7,1360.7 723.7,1359.7 724.7,1360.5 725.7,1360.8 726.7,1361.8 727.7,1362.3 728.7,1359.1 729.7,1358.1 730.7,1358.1 731.7,1359.2 732.8,1360.5 733.8,1360.1 734.8,1360.2 735.8,1360.9 736.8,1361.2 737.8,1360.4 738.8,1361.2 739.8,1360.7 740.8,1359.5 741.9,1360.0 742.9,1361.1 743.9,1361.0 744.9,1360.0 745.9,1359.5 746.9,1360.9 747.9,1361.0 748.9,1361.7 749.9,1361.0 751.0,1360.3 752.0,1360.1 753.0,1360.5 754.0,1360.6 755.0,1360.7 756.0,1360.8 757.0,1359.0 758.0,1360.2 759.0,1360.8 760.1,1361.4 761.1,1360.4 762.1,1360.8 763.1,1360.3 764.1,1360.8 765.1,1360.6 766.1,1360.7 767.1,1360.9 768.1,1361.5 769.2,1359.9 770.2,1360.8 771.2,1361.4 772.2,1361.0 773.2,1360.7 774.2,1360.9 775.2,1362.9 776.2,1361.0 777.2,1360.1 778.2,1359.4 779.3,1360.4 780.3,1360.2 781.3,1361.0 782.3,1360.9 783.3,1360.2 784.3,1360.7 785.3,1362.7 786.3,1360.8 787.3,1361.9 788.4,1361.8 789.4,1361.6 790.4,1359.7 791.4,1359.6 792.4,1359.3 793.4,1360.2 794.4,1359.5 795.4,1359.5 796.4,1360.7 797.5,1360.2 798.5,1359.9 799.5,1360.5 800.5,1359.6 801.5,1359.9 802.5,1360.1 803.5,1361.1 804.5,1360.5 805.5,1359.6 806.6,1359.7 807.6,1362.0 808.6,1360.6 809.6,1359.9 810.6,1361.1 811.6,1361.6 812.6,1359.2 813.6,1358.5 814.6,1359.5 815.7,1359.9 816.7,1359.8 817.7,1360.8 818.7,1359.8 819.7,1360.8 820.7,1360.8 821.7,1360.0 822.7,1359.5 823.7,1359.6 824.8,1360.5 825.8,1359.4 826.8,1358.9 827.8,1359.6 828.8,1360.3 829.8,1360.9 830.8,1361.0 831.8,1360.1 832.8,1360.5 833.8,1358.9 834.9,1359.5 835.9,1358.9 836.9,1360.5 837.9,1361.5 838.9,1361.2 839.9,1360.8 840.9,1359.2 841.9,1361.5 842.9,1360.4 844.0,1360.9 845.0,1360.3 846.0,1361.3 847.0,1359.8 848.0,1358.9 849.0,1360.6 850.0,1360.8 851.0,1359.3 852.0,1359.6 853.1,1359.9 854.1,1360.4 855.1,1360.4 856.1,1361.6 857.1,1360.6 858.1,1360.3 859.1,1360.6 860.1,1360.5 861.1,1361.1 862.2,1359.5 863.2,1359.7 864.2,1359.4 865.2,1359.8 866.2,1359.2 867.2,1360.0 868.2,1360.3 869.2,1360.1 870.2,1361.2 871.3,1360.8 872.3,1360.9 873.3,1360.7 874.3,1361.2 875.3,1360.9 876.3,1360.5 877.3,1359.9 878.3,1359.4 879.3,1359.4 880.3,1360.9 881.4,1360.6 882.4,1360.5 883.4,1360.0 884.4,1359.6 885.4,1361.8 886.4,1361.2 887.4,1360.3 888.4,1361.3 889.4,1359.7 890.5,1358.7 891.5,1359.1 892.5,1357.7 893.5,1357.4 894.5,1358.2 895.5,1359.7 896.5,1358.8 897.5,1358.9 898.5,1359.6 899.6,1360.5 900.6,1360.7 901.6,1359.7 902.6,1359.2 903.6,1359.8" fill="none" stroke="#ffa500" stroke-width="2.0" stroke-linejoin="round"/>
<line x1="95.1" y1="1360.26" x2="903.6" y2="1360.26" stroke="#000" stroke-width="2.9" stroke-dasharray="12.2 5.8" stroke-dashoffset="0.6"/>
<rect x="95.1" y="856.4" width="808.50" height="601.80" fill="none" stroke="#0d0d0d" stroke-width="1.9"/>
<line x1="87.70" y1="884.20" x2="95.1" y2="884.20" stroke="#0d0d0d" stroke-width="1.9"/>
<text transform="translate(79.70,896.07) scale(1.2448,1.1864)" x="-26.22" font-size="23.6" fill="#262626" stroke="#262626">−</text><text transform="translate(79.70,894.30) scale(0.9962,1.0800)" x="-13.89" font-size="23.6" fill="#262626" stroke="#262626">7</text>
<line x1="87.70" y1="957.44" x2="95.1" y2="957.44" stroke="#0d0d0d" stroke-width="1.9"/>
<text transform="translate(79.70,969.31) scale(1.2448,1.1864)" x="-26.22" font-size="23.6" fill="#262626" stroke="#262626">−</text><text transform="translate(79.70,967.54) scale(1.0294,1.0800)" x="-13.61" font-size="23.6" fill="#262626" stroke="#262626">8</text>
<line x1="87.70" y1="1030.68" x2="95.1" y2="1030.68" stroke="#0d0d0d" stroke-width="1.9"/>
<text transform="translate(79.70,1042.55) scale(1.2448,1.1864)" x="-26.22" font-size="23.6" fill="#262626" stroke="#262626">−</text><text transform="translate(79.70,1040.78) scale(1.0519,1.0800)" x="-13.53" font-size="23.6" fill="#262626" stroke="#262626">9</text>
<line x1="87.70" y1="1103.92" x2="95.1" y2="1103.92" stroke="#0d0d0d" stroke-width="1.9"/>
<text transform="translate(79.70,1115.79) scale(1.2448,1.1864)" x="-37.88" font-size="23.6" fill="#262626" stroke="#262626">−</text><text transform="translate(79.70,1114.02) scale(0.9967,1.0800)" x="-28.52 -13.85" font-size="23.6" fill="#262626" stroke="#262626">10</text>
<line x1="87.70" y1="1177.16" x2="95.1" y2="1177.16" stroke="#0d0d0d" stroke-width="1.9"/>
<text transform="translate(79.70,1189.03) scale(1.2448,1.1864)" x="-37.88" font-size="23.6" fill="#262626" stroke="#262626">−</text><text transform="translate(79.70,1187.26) scale(0.9727,1.0800)" x="-29.05 -14.14" font-size="23.6" fill="#262626" stroke="#262626">11</text>
<line x1="87.70" y1="1250.40" x2="95.1" y2="1250.40" stroke="#0d0d0d" stroke-width="1.9"/>
<text transform="translate(79.70,1262.27) scale(1.2448,1.1864)" x="-37.88" font-size="23.6" fill="#262626" stroke="#262626">−</text><text transform="translate(79.70,1260.50) scale(0.9773,1.0800)" x="-28.95 -14.30" font-size="23.6" fill="#262626" stroke="#262626">12</text>
<line x1="87.70" y1="1323.64" x2="95.1" y2="1323.64" stroke="#0d0d0d" stroke-width="1.9"/>
<text transform="translate(79.70,1335.51) scale(1.2448,1.1864)" x="-37.88" font-size="23.6" fill="#262626" stroke="#262626">−</text><text transform="translate(79.70,1333.74) scale(0.9755,1.0800)" x="-28.99 -13.97" font-size="23.6" fill="#262626" stroke="#262626">13</text>
<line x1="87.70" y1="1396.88" x2="95.1" y2="1396.88" stroke="#0d0d0d" stroke-width="1.9"/>
<text transform="translate(79.70,1408.75) scale(1.2448,1.1864)" x="-37.88" font-size="23.6" fill="#262626" stroke="#262626">−</text><text transform="translate(79.70,1406.98) scale(0.9974,1.0800)" x="-28.50 -13.84" font-size="23.6" fill="#262626" stroke="#262626">14</text>
<line x1="95.90" y1="1458.2" x2="95.90" y2="1465.60" stroke="#0d0d0d" stroke-width="1.9"/>
<text transform="translate(95.90,1493.00) scale(1.0184,1.0800)" x="-6.57" font-size="23.6" fill="#262626" stroke="#262626">0</text>
<line x1="257.44" y1="1458.2" x2="257.44" y2="1465.60" stroke="#0d0d0d" stroke-width="1.9"/>
<text transform="translate(257.44,1493.00) scale(1.0113,1.0800)" x="-35.55 -20.91 -6.57 7.78 22.12" font-size="23.6" fill="#262626" stroke="#262626">20000</text>
<line x1="418.98" y1="1458.2" x2="418.98" y2="1465.60" stroke="#0d0d0d" stroke-width="1.9"/>
<text transform="translate(418.98,1493.00) scale(1.0184,1.0800)" x="-35.06 -20.81 -6.57 7.68 21.92" font-size="23.6" fill="#262626" stroke="#262626">40000</text>
<line x1="580.52" y1="1458.2" x2="580.52" y2="1465.60" stroke="#0d0d0d" stroke-width="1.9"/>
<text transform="translate(580.52,1493.00) scale(1.0253,1.0800)" x="-34.86 -20.72 -6.57 7.58 21.73" font-size="23.6" fill="#262626" stroke="#262626">60000</text>
<line x1="742.06" y1="1458.2" x2="742.06" y2="1465.60" stroke="#0d0d0d" stroke-width="1.9"/>
<text transform="translate(742.06,1493.00) scale(1.0206,1.0800)" x="-35.00 -20.78 -6.57 7.65 21.86" font-size="23.6" fill="#262626" stroke="#262626">80000</text>
<line x1="903.60" y1="1458.2" x2="903.60" y2="1465.60" stroke="#0d0d0d" stroke-width="1.9"/>
<text transform="translate(903.60,1493.00) scale(1.0114,1.0800)" x="-42.54 -28.08 -13.74 0.60 14.95 29.29" font-size="23.6" fill="#262626" stroke="#262626">100000</text>
<text transform="translate(451.98,1524.90) scale(1.0612,1.0800)" x="-0.13 7.14 14.71 28.63 35.72 50.49 58.37 63.92 77.25" font-size="23.6" fill="#262626" stroke="#262626">Iteration</text>
<text transform="translate(19.60,1199.88) rotate(-90) scale(0.9923,1.0800)" x="-0.88 14.71 28.68 43.17 51.68 66.19" font-size="23.6" fill="#262626" stroke="#262626">Energy</text>
<rect x="691.6" y="868.1" width="200.3" height="108.9" rx="4.5" fill="#fff" fill-opacity="0.8" stroke="#d9d9d9" stroke-width="2.0"/>
<line x1="700.05" y1="888.1" x2="745.5" y2="888.1" stroke="#8a8aff" stroke-width="2.6"/>
<line x1="700.05" y1="921.3" x2="745.5" y2="921.3" stroke="#ffd08a" stroke-width="2.6"/>
<line x1="700.05" y1="955" x2="745.5" y2="955" stroke="#000" stroke-width="2.9" stroke-dasharray="12.4 5.3"/>
<text transform="translate(764.18,896.40) scale(0.9331,1.0800)" x="0.38 19.76 39.88" font-size="23.6" fill="#262626" stroke="#262626">QMC</text>
<text transform="translate(764.18,932.51) scale(1.2366,1.3056)" x="39.45" font-size="23.6" fill="#262626" stroke="#262626">+</text><text transform="translate(764.18,929.80) scale(0.9562,1.0800)" x="0.38 17.85 32.61 70.00 88.89 108.56" font-size="23.6" fill="#262626" stroke="#262626">HTNQMC</text>
<text transform="translate(764.18,963.40) scale(0.9665,1.0800)" x="-0.53 15.79 28.43 43.31 57.18" font-size="23.6" fill="#262626" stroke="#262626">Exact</text>
</svg>
</body></html>
